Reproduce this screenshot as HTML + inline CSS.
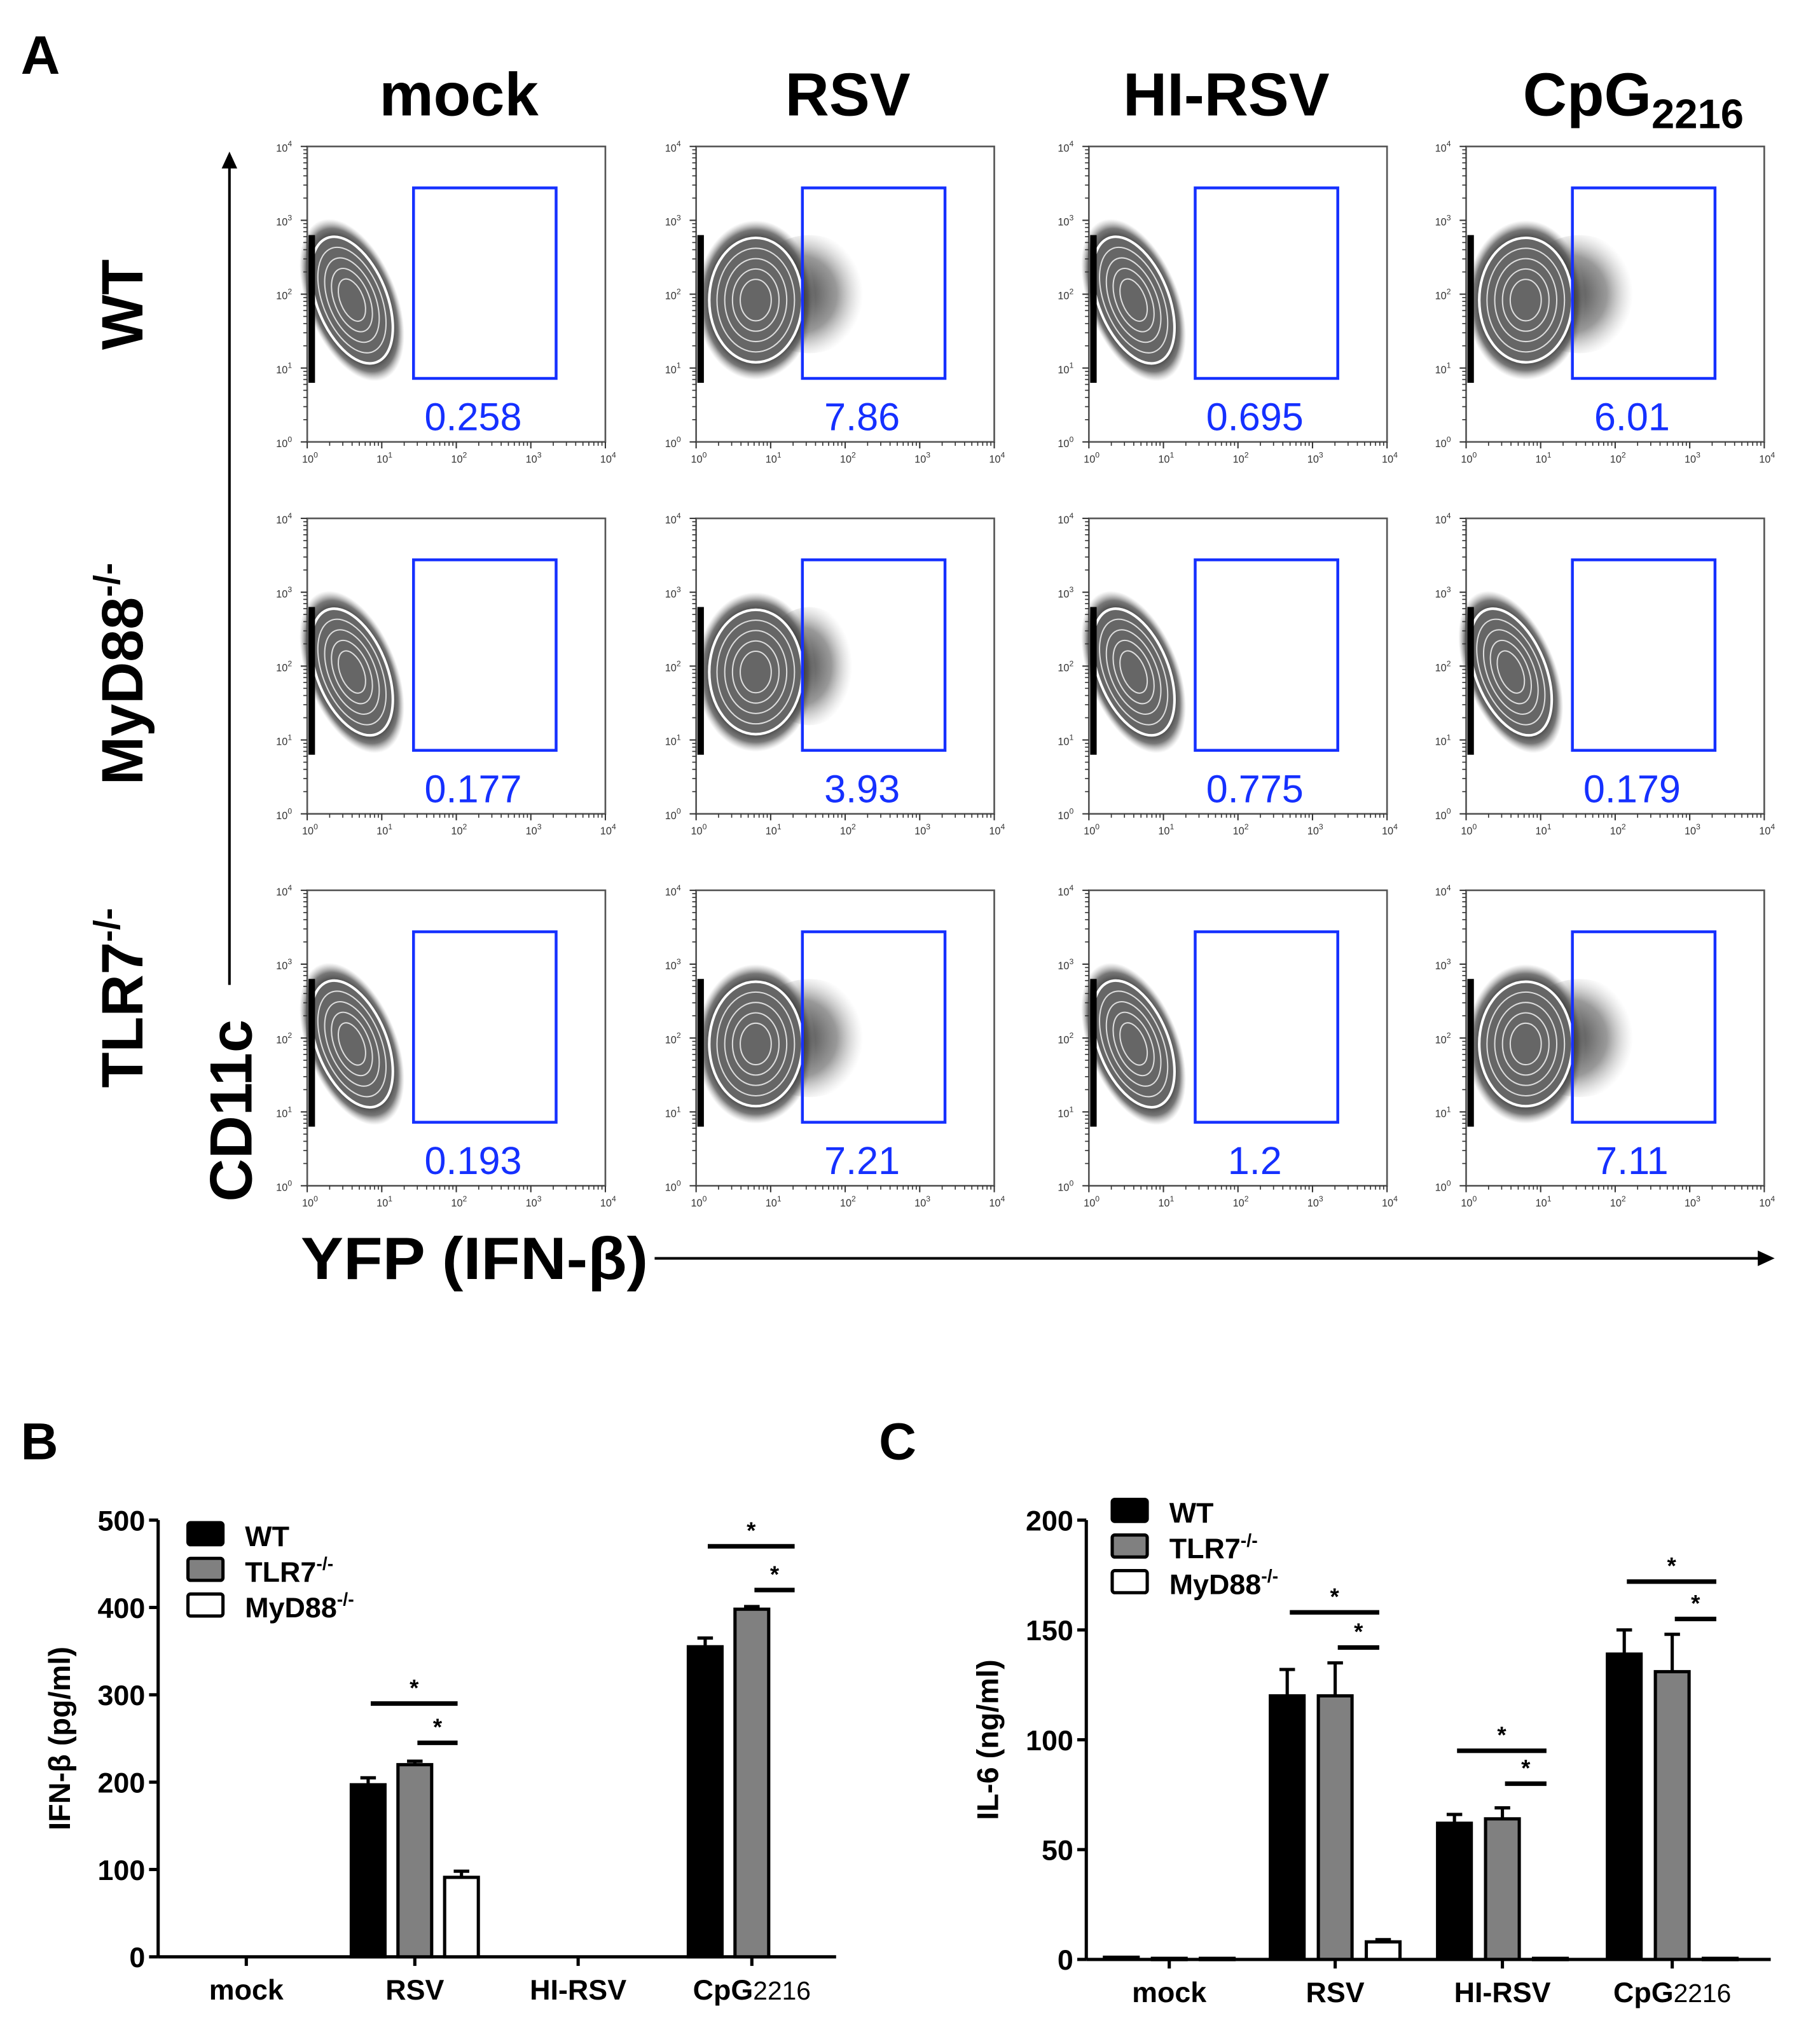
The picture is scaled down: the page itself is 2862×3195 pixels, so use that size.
<!DOCTYPE html>
<html><head><meta charset="utf-8"><style>
html,body{margin:0;padding:0;background:#fff}
svg{display:block}
text{font-family:"Liberation Sans",Arial,sans-serif}
</style></head><body>
<svg id="fig" width="2862" height="3195" viewBox="0 0 1404 1568" preserveAspectRatio="none" xmlns="http://www.w3.org/2000/svg">
<defs>
<radialGradient id="speck" cx="50%" cy="50%" r="50%">
<stop offset="0%" stop-color="#111"/><stop offset="70%" stop-color="#222"/><stop offset="88%" stop-color="#555" stop-opacity="0.8"/><stop offset="100%" stop-color="#999" stop-opacity="0"/>
</radialGradient>
<radialGradient id="tail" cx="40%" cy="50%" r="55%">
<stop offset="0%" stop-color="#222" stop-opacity="0.9"/><stop offset="60%" stop-color="#555" stop-opacity="0.6"/><stop offset="100%" stop-color="#aaa" stop-opacity="0"/>
</radialGradient>
</defs>
<text x="16" y="57" font-size="42" font-weight="bold">A</text>
<text x="16" y="1126" font-size="40" font-weight="bold">B</text>
<text x="678" y="1126" font-size="40" font-weight="bold">C</text>
<g id="flow"></g>
<g id="chartB"></g>
<g id="chartC"></g>
</svg>
<script>
const NS="http://www.w3.org/2000/svg";
function mk(parent,tag,attrs,txt){const e=document.createElementNS(NS,tag);for(const k in attrs)e.setAttribute(k,attrs[k]);if(txt!==undefined)e.textContent=txt;parent.appendChild(e);return e;}

// ---------- Panel A ----------
const conditions=["mock","RSV","HI-RSV","CpG"];
const genotypes=["WT","MyD88","TLR7"];
const percents=[["0.258","7.86","0.695","6.01"],["0.177","3.93","0.775","0.179"],["0.193","7.21","1.2","7.11"]];
const blobKinds=[["low","high","low","high"],["low","mid","low","low"],["low","high","low","high"]];
const flow=document.getElementById('flow');
const colX=[237,537,840,1131], rowY=[113,400,687], PW=230, PH=228;

const titleX=[354,654,946,1260];
conditions.forEach((c,i)=>{
  const t=mk(flow,'text',{x:titleX[i],y:89,'font-size':47,'font-weight':'bold','text-anchor':'middle'});
  
  
  if(c==="CpG"){t.textContent="CpG";mk(t,'tspan',{'font-size':32,dy:10},"2216");}
  else t.textContent=c;
});
const rowLabelY=[235,520,770];
genotypes.forEach((g,i)=>{
  const t=mk(flow,'text',{x:0,y:0,'font-size':45,'font-weight':'bold','text-anchor':'middle',transform:`translate(110,${rowLabelY[i]}) rotate(-90)`});
  
  
  if(g==="WT")t.textContent="WT";
  else{t.textContent=g;mk(t,'tspan',{'font-size':28,dy:-18},"-/-");}
});
const ya=mk(flow,'g',{});
mk(ya,'line',{x1:177,y1:760,x2:177,y2:128,stroke:'#000','stroke-width':2});
mk(ya,'polygon',{points:'171,130 177,117 183,130',fill:'#000'});
const yt=mk(flow,'text',{'font-size':46,'font-weight':'bold','text-anchor':'middle',transform:'translate(194,857) rotate(-90)'},"CD11c");

const xa=mk(flow,'g',{});
mk(xa,'line',{x1:505,y1:971,x2:1358,y2:971,stroke:'#000','stroke-width':2});
mk(xa,'polygon',{points:'1356,965 1369,971 1356,977',fill:'#000'});
const xt=mk(flow,'text',{x:232,y:987,'font-size':46,'font-weight':'bold',textLength:268,lengthAdjust:'spacingAndGlyphs'},"YFP (IFN-β)");


function blob(g,x0,y0,kind){
  const W=PW,H=PH;
  if(kind!=="low"){
    const ext=kind==="high"?0.2:0.16;
    mk(g,'ellipse',{cx:x0+W*(0.38),cy:y0+H*0.5,rx:W*ext,ry:H*0.2,fill:'url(#tail)'});
  }
  let cx,rx,ry,rot;
  if(kind==="low"){cx=0.15;rx=0.15;ry=0.29;rot=-22;}
  else {cx=0.2;rx=0.2;ry=0.27;rot=0;}
  mk(g,'ellipse',{cx:x0+W*cx,cy:y0+H*0.52,rx:W*rx,ry:H*ry,fill:'url(#speck)',transform:`rotate(${rot} ${x0+W*cx} ${y0+H*0.52})`});
  for(let k=0;k<5;k++){
    const f=0.78-k*0.13;
    mk(g,'ellipse',{cx:x0+W*cx,cy:y0+H*0.52,rx:W*rx*f,ry:H*ry*f,fill:k==0?'#666':'none',stroke:k==0?'#fff':'#ddd','stroke-width':k==0?2:1,transform:`rotate(${rot} ${x0+W*cx} ${y0+H*0.52})`});
  }
  mk(g,'rect',{x:x0+1,y:y0+H*0.3,width:5,height:H*0.5,fill:'#000'});
}
genotypes.forEach((gt,r)=>{
  conditions.forEach((c,ci)=>{
    const x0=colX[ci],y0=rowY[r];
    const g=mk(flow,'g',{});
    
    
    blob(g,x0,y0,blobKinds[r][ci]);
    mk(g,'rect',{x:x0,y:y0,width:PW,height:PH,fill:'none',stroke:'#555','stroke-width':1.3});
    for(let d=0;d<=4;d++){
      const px=x0+PW*d/4, py=y0+PH-PH*d/4;
      mk(g,'line',{x1:px,y1:y0+PH,x2:px,y2:y0+PH+5,stroke:'#333','stroke-width':1});
      mk(g,'line',{x1:x0-5,y1:py,x2:x0,y2:py,stroke:'#333','stroke-width':1});
      const lx=mk(g,'text',{x:px-4,y:y0+PH+16,'font-size':8,fill:'#333'},"10");mk(lx,'tspan',{'font-size':6,dy:-4},String(d));
      const ly=mk(g,'text',{x:x0-24,y:py+4,'font-size':8,fill:'#333'},"10");mk(ly,'tspan',{'font-size':6,dy:-4},String(d));
      if(d<4)for(let m=2;m<10;m++){const f=Math.log10(m)/4;
        mk(g,'line',{x1:x0+PW*(d/4+f),y1:y0+PH,x2:x0+PW*(d/4+f),y2:y0+PH+3,stroke:'#333','stroke-width':0.8});
        mk(g,'line',{x1:x0-3,y1:y0+PH-PH*(d/4+f),x2:x0,y2:y0+PH-PH*(d/4+f),stroke:'#333','stroke-width':0.8});}
    }
    const gate=mk(g,'rect',{x:x0+82,y:y0+32,width:110,height:147,fill:'none',stroke:'#1530ff','stroke-width':2.2});
    
    const pt=mk(g,'text',{x:x0+128,y:y0+219,'font-size':30,fill:'#1530ff','text-anchor':'middle'},percents[r][ci]);
    
  });
});

// ---------- Panels B & C ----------
const categories=["mock","RSV","HI-RSV","CpG2216"];
const seriesNames=["WT","TLR7","MyD88"];
const ifnWT=[0,197,0,355], ifnTLR7=[0,220,0,398], ifnMyD88=[0,91,0,0];
const ifnErrWT=[0,8,0,10], ifnErrTLR7=[0,4,0,3], ifnErrMyD88=[0,7,0,0];
const ifnTicks=[0,100,200,300,400,500];
const il6WT=[1,120,62,139], il6TLR7=[0.5,120,64,131], il6MyD88=[0.5,8,0.5,0.5];
const il6ErrWT=[0,12,4,11], il6ErrTLR7=[0,15,5,17], il6ErrMyD88=[0,1,0,0];
const il6Ticks=[0,50,100,150,200];
const ifnSig=[[1,0,2,290],[1,1,2,245],[3,0,2,470],[3,1,2,420]];
const il6Sig=[[1,0,2,158],[1,1,2,142],[2,0,2,95],[2,1,2,80],[3,0,2,172],[3,1,2,155]];
const fills=["#000","#808080","#fff"];

function barChart(id,cfg){
  const g=document.getElementById(id);
  const {ax,top,zero,xend,ymax,ticks,vals,errs,sig,catX,title,legX,legY,bw,off}=cfg;
  const y=v=>zero-(zero-top)*v/ymax;
  const axis=mk(g,'g',{});
  mk(axis,'line',{x1:ax,y1:top,x2:ax,y2:zero,stroke:'#000','stroke-width':2.5});
  ticks.forEach(t=>{mk(axis,'line',{x1:ax-7,y1:y(t),x2:ax,y2:y(t),stroke:'#000','stroke-width':2.5});
    const tl=mk(axis,'text',{x:ax-10,y:y(t)+8,'font-size':22,'font-weight':'bold','text-anchor':'end'},String(t));
    });
  const xax=mk(g,'g',{});
  mk(xax,'line',{x1:ax,y1:zero,x2:xend,y2:zero,stroke:'#000','stroke-width':2.5});
  categories.forEach((c,i)=>{
    mk(xax,'line',{x1:catX[i],y1:zero,x2:catX[i],y2:zero+7,stroke:'#000','stroke-width':2.5});
    const t=mk(xax,'text',{x:catX[i],y:zero+33,'font-size':22,'font-weight':'bold','text-anchor':'middle'});
    
    if(c==="CpG2216"){t.textContent="CpG";mk(t,'tspan',{'font-size':20,'font-weight':'normal'},"2216");}else t.textContent=c;
  });
  const yt=mk(g,'text',{'font-size':23,'font-weight':'bold','text-anchor':'middle',transform:`translate(${ax-68},${(top+zero)/2}) rotate(-90)`},title);
  
  vals.forEach((arr,s)=>{
    arr.forEach((v,i)=>{
      const cx=catX[i]+(s-1)*off;
      const yy=y(v);
      if(errs[s][i]>0){
        const ey=y(v+errs[s][i]);
        mk(g,'line',{x1:cx,y1:ey,x2:cx,y2:yy,stroke:'#000','stroke-width':2.5});
        mk(g,'line',{x1:cx-6,y1:ey,x2:cx+6,y2:ey,stroke:'#000','stroke-width':2.5});
      }
      if(v>0){
        const b=mk(g,'rect',{x:cx-bw/2,y:yy,width:bw,height:Math.max(zero-yy,1),fill:fills[s],stroke:'#000','stroke-width':2.5});
        
        
      }
    });
  });
  sig.forEach(([ci,fromS,toS,v])=>{
    const x1=catX[ci]+(fromS-1)*off+2, x2=catX[ci]+(toS-1)*off-3;
    const sg=mk(g,'g',{});
    mk(sg,'line',{x1:x1,y1:y(v),x2:x2,y2:y(v),stroke:'#000','stroke-width':3.5});
    mk(sg,'text',{x:(x1+x2)/2,y:y(v)-6,'font-size':18,'font-weight':'bold','text-anchor':'middle'},"*");
  });
  const labels=["WT","TLR7","MyD88"];
  labels.forEach((l,s)=>{
    const le=mk(g,'g',{});
    mk(le,'rect',{x:legX,y:legY+s*27.5,width:27,height:17,fill:fills[s],stroke:'#000','stroke-width':2.5,rx:2});
    const t=mk(le,'text',{x:legX+44,y:legY+s*27.5+18,'font-size':22,'font-weight':'bold'},l);
    if(s>0)mk(t,'tspan',{'font-size':14,dy:-9},"-/-");
  });
}
barChart('chartB',{ax:122,top:1173,zero:1510,xend:645,ymax:500,ticks:ifnTicks,
  vals:[ifnWT,ifnTLR7,ifnMyD88],errs:[ifnErrWT,ifnErrTLR7,ifnErrMyD88],sig:ifnSig,
  catX:[190,320,446,580],title:"IFN-β (pg/ml)",legX:145,legY:1175,bw:26,off:36});
barChart('chartC',{ax:838,top:1173,zero:1512,xend:1366,ymax:200,ticks:il6Ticks,
  vals:[il6WT,il6TLR7,il6MyD88],errs:[il6ErrWT,il6ErrTLR7,il6ErrMyD88],sig:il6Sig,
  catX:[902,1030,1159,1290],title:"IL-6 (ng/ml)",legX:858,legY:1157,bw:26,off:37});
</script>
</body></html>
